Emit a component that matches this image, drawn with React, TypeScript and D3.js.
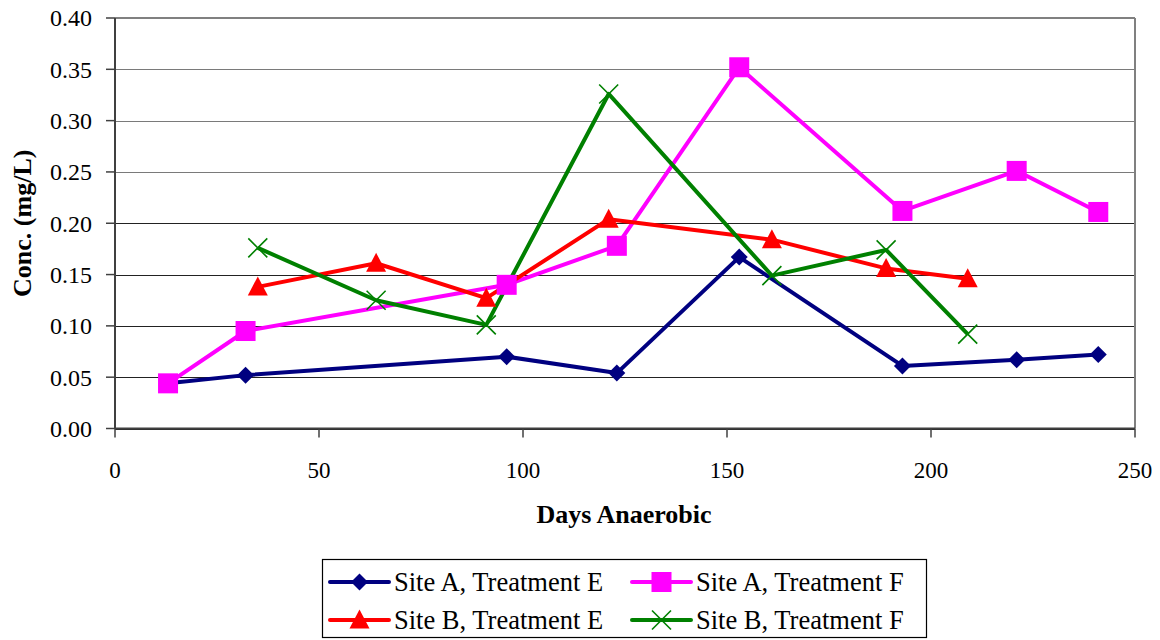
import React from "react";
import * as d3 from "d3";

// Sampling days and concentrations (mg/L) for each site / treatment
const siteADays = [13, 32, 96, 123, 153, 193, 221, 241];
const siteAE = [0.044, 0.052, 0.07, 0.054, 0.167, 0.061, 0.067, 0.072];
const siteAF = [0.044, 0.095, 0.14, 0.178, 0.352, 0.212, 0.251, 0.211];

const siteBDays = [35, 64, 91, 121, 161, 189, 209];
const siteBE = [0.138, 0.161, 0.127, 0.204, 0.184, 0.156, 0.146];
const siteBF = [0.176, 0.125, 0.101, 0.326, 0.149, 0.174, 0.092];

const xTicks = [0, 50, 100, 150, 200, 250];
const yTicks = [0, 0.05, 0.1, 0.15, 0.2, 0.25, 0.3, 0.35, 0.4];

type Marker = "diamond" | "square" | "triangle" | "x";
interface Series {
  name: string;
  days: number[];
  values: number[];
  color: string;
  marker: Marker;
}

const series: Series[] = [
  { name: "Site A, Treatment E", days: siteADays, values: siteAE, color: "#000080", marker: "diamond" },
  { name: "Site A, Treatment F", days: siteADays, values: siteAF, color: "#FF00FF", marker: "square" },
  { name: "Site B, Treatment E", days: siteBDays, values: siteBE, color: "#FF0000", marker: "triangle" },
  { name: "Site B, Treatment F", days: siteBDays, values: siteBF, color: "#008000", marker: "x" },
];

const W = 1160;
const H = 640;
const plot = { left: 115, right: 1135, top: 18, bottom: 428.5 };
const FONT = "'Liberation Serif', 'Times New Roman', serif";

const x = d3.scaleLinear().domain([0, 250]).range([plot.left, plot.right]);
const y = d3.scaleLinear().domain([0, 0.4]).range([plot.bottom, plot.top]);

function MarkerShape({ kind, cx, cy, color }: { kind: Marker; cx: number; cy: number; color: string }) {
  if (kind === "diamond") {
    const r = 8.5;
    return <path d={`M${cx},${cy - r}L${cx + r},${cy}L${cx},${cy + r}L${cx - r},${cy}Z`} fill={color} />;
  }
  if (kind === "square") {
    const s = 20;
    return <rect x={cx - s / 2} y={cy - s / 2} width={s} height={s} fill={color} />;
  }
  if (kind === "triangle") {
    const w = 20;
    const h = 19;
    return (
      <path
        d={`M${cx},${cy - h * 0.55}L${cx + w / 2},${cy + h * 0.45}L${cx - w / 2},${cy + h * 0.45}Z`}
        fill={color}
      />
    );
  }
  const r = 9.5;
  return (
    <path
      d={`M${cx - r},${cy - r}L${cx + r},${cy + r}M${cx - r},${cy + r}L${cx + r},${cy - r}`}
      stroke={color}
      strokeWidth={1.6}
      fill="none"
    />
  );
}

export default function App() {
  const line = d3
    .line<[number, number]>()
    .x((d) => x(d[0]))
    .y((d) => y(d[1]));

  const legendItems = [
    { s: series[0], lx: 330, ly: 582 },
    { s: series[1], lx: 632, ly: 582 },
    { s: series[2], lx: 330, ly: 620 },
    { s: series[3], lx: 632, ly: 620 },
  ];

  return (
    <svg
      width={W}
      height={H}
      style={{ position: "absolute", left: 0, top: 0, background: "#fff" }}
      fontFamily={FONT}
    >
      {/* horizontal gridlines */}
      {yTicks.map((t) => (
        <line
          key={`g${t}`}
          x1={plot.left}
          x2={plot.right}
          y1={Math.round(y(t)) + 0.5}
          y2={Math.round(y(t)) + 0.5}
          stroke={t >= 0.25 ? "#7a7a7a" : "#222"}
          strokeWidth={1.2}
        />
      ))}
      {/* plot frame: top and right */}
      <line x1={plot.right} x2={plot.right} y1={plot.top} y2={plot.bottom} stroke="#808080" strokeWidth={2} />
      <line x1={plot.left} x2={plot.right} y1={plot.top} y2={plot.top} stroke="#808080" strokeWidth={2} />

      {/* y axis */}
      <line x1={plot.left} x2={plot.left} y1={plot.top} y2={plot.bottom} stroke="#404040" strokeWidth={2} />
      {yTicks.map((t) => (
        <g key={`yt${t}`}>
          <line x1={plot.left - 9} x2={plot.left} y1={y(t)} y2={y(t)} stroke="#404040" strokeWidth={1.5} />
          <text x={92} y={y(t)} dy="0.35em" textAnchor="end" fontSize={24} fill="#000">
            {d3.format(".2f")(t)}
          </text>
        </g>
      ))}

      {/* x axis */}
      <line x1={plot.left} x2={plot.right} y1={plot.bottom} y2={plot.bottom} stroke="#404040" strokeWidth={2} />
      {xTicks.map((t) => (
        <g key={`xt${t}`}>
          <line x1={x(t)} x2={x(t)} y1={plot.bottom} y2={plot.bottom + 9} stroke="#404040" strokeWidth={1.5} />
          <text x={x(t)} y={478} textAnchor="middle" fontSize={23} fill="#000">
            {t}
          </text>
        </g>
      ))}

      {/* axis titles */}
      <text x={624} y={523} textAnchor="middle" fontSize={26} fontWeight="bold" fill="#000">
        Days Anaerobic
      </text>
      <text
        transform={`translate(31,${(plot.top + plot.bottom) / 2}) rotate(-90)`}
        textAnchor="middle"
        fontSize={26}
        fontWeight="bold"
        fill="#000"
      >
        Conc. (mg/L)
      </text>

      {/* series lines */}
      {series.map((s) => (
        <path
          key={`l${s.name}`}
          d={line(s.days.map((d, i) => [d, s.values[i]] as [number, number])) || ""}
          fill="none"
          stroke={s.color}
          strokeWidth={4}
          strokeLinejoin="round"
        />
      ))}
      {/* series markers */}
      {series.map((s) => (
        <g key={`m${s.name}`}>
          {s.days.map((d, i) => (
            <MarkerShape key={i} kind={s.marker} cx={x(d)} cy={y(s.values[i])} color={s.color} />
          ))}
        </g>
      ))}

      {/* legend */}
      <rect x={322.5} y={559.5} width={604} height={78} fill="#fff" stroke="#000" strokeWidth={1.2} />
      {legendItems.map(({ s, lx, ly }) => (
        <g key={`lg${s.name}`}>
          <line x1={lx} x2={lx + 59} y1={ly} y2={ly} stroke={s.color} strokeWidth={4} strokeLinecap="round" />
          <MarkerShape kind={s.marker} cx={lx + 29.5} cy={ly} color={s.color} />
          <text x={lx + 64} y={ly} dy="0.35em" fontSize={26.5} fill="#000">
            {s.name}
          </text>
        </g>
      ))}
    </svg>
  );
}
